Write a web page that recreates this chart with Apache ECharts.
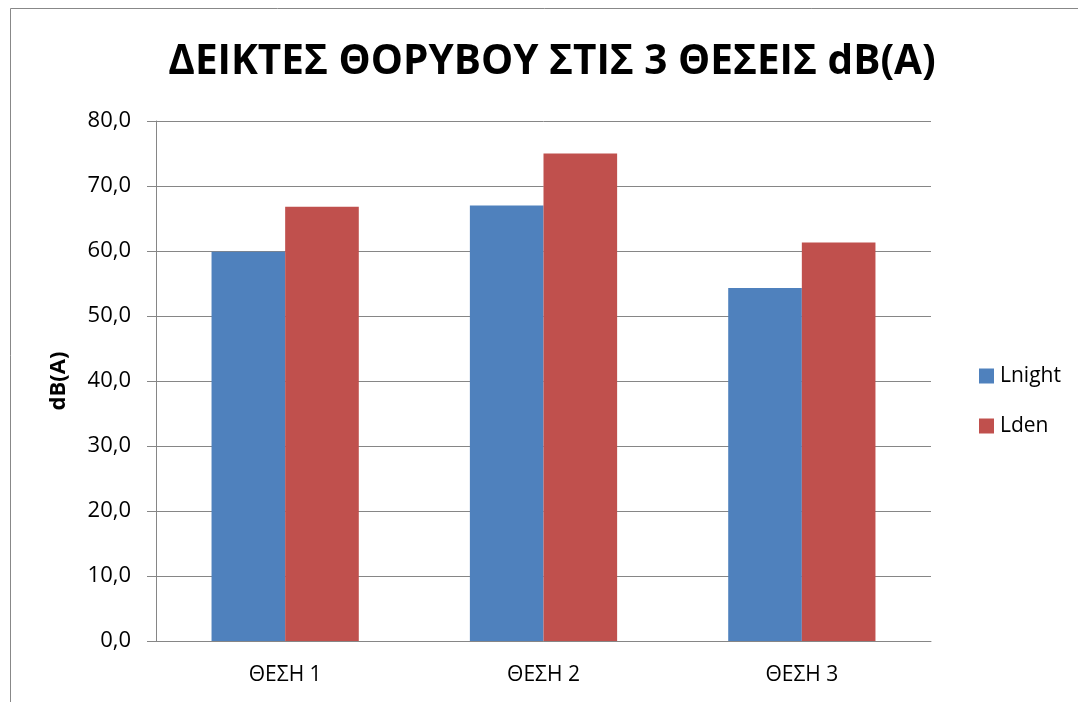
<!DOCTYPE html>
<html>
<head>
<meta charset="utf-8">
<script src="https://cdn.jsdelivr.net/npm/echarts@6/dist/echarts.min.js"></script>
<style>
html, body { margin: 0; padding: 0; background: #fff; }
#chart { width: 1078px; height: 702px; }
</style>
</head>
<body>
<div id="chart"></div>
<script>
// θέσεις μέτρησης
var categories = ['ΘΕΣΗ 1', 'ΘΕΣΗ 2', 'ΘΕΣΗ 3'];
var lnight = [59.9, 67.0, 54.3];
var lden = [66.8, 75.0, 61.3];
var yTicks = [0, 10, 20, 30, 40, 50, 60, 70, 80];

var font = '"Open Sans", sans-serif';
var myChart = echarts.init(document.getElementById('chart'));

var option = {
  backgroundColor: '#fff',
  animation: false,
  title: {
    text: 'ΔΕΙΚΤΕΣ ΘΟΡΥΒΟΥ ΣΤΙΣ 3 ΘΕΣΕΙΣ dB(A)',
    left: 547,
    textAlign: 'center',
    top: 37,
    textStyle: { fontFamily: font, fontWeight: 'bold', fontSize: 40.5, color: '#000' }
  },
  graphic: [{
    type: 'rect',
    shape: { x: 10.5, y: 8.5, width: 1200, height: 900 },
    style: { fill: 'none', stroke: '#888', lineWidth: 1 },
    silent: true
  }],
  legend: {
    orient: 'vertical',
    left: 974,
    top: 360,
    itemWidth: 15,
    itemHeight: 15,
    itemGap: 28,
    icon: 'rect',
    textStyle: { fontFamily: font, fontSize: 21, lineHeight: 22, color: '#000', padding: [0, 0, 0, 1] },
    data: ['Lnight', 'Lden']
  },
  grid: { left: 156, right: 147, top: 121, bottom: 61 },
  xAxis: {
    type: 'category',
    data: categories,
    axisLine: { lineStyle: { color: '#868686', width: 1 } },
    axisTick: { show: false },
    axisLabel: { fontFamily: font, fontSize: 21, color: '#000', margin: 24 }
  },
  yAxis: {
    type: 'value',
    min: yTicks[0],
    max: yTicks[yTicks.length - 1],
    interval: 10,
    name: 'dB(A)',
    nameLocation: 'middle',
    nameGap: 86,
    nameRotate: 90,
    nameTextStyle: { fontFamily: font, fontWeight: 'bold', fontSize: 22, color: '#000' },
    axisLine: { show: true, lineStyle: { color: '#868686', width: 1 } },
    axisTick: { show: true, length: 9, lineStyle: { color: '#868686' } },
    axisLabel: {
      fontFamily: font, fontSize: 22, color: '#000', margin: 25,
      formatter: function (v) { return v.toFixed(1).replace('.', ','); }
    },
    splitLine: { lineStyle: { color: '#868686', width: 1 } }
  },
  series: [
    {
      name: 'Lnight', type: 'bar', data: lnight,
      barGap: 0, barCategoryGap: '43%',
      itemStyle: { color: '#4f81bd' }
    },
    {
      name: 'Lden', type: 'bar', data: lden,
      barGap: 0, barCategoryGap: '43%',
      itemStyle: { color: '#c0504d' }
    }
  ]
};
myChart.setOption(option);
</script>
</body>
</html>
